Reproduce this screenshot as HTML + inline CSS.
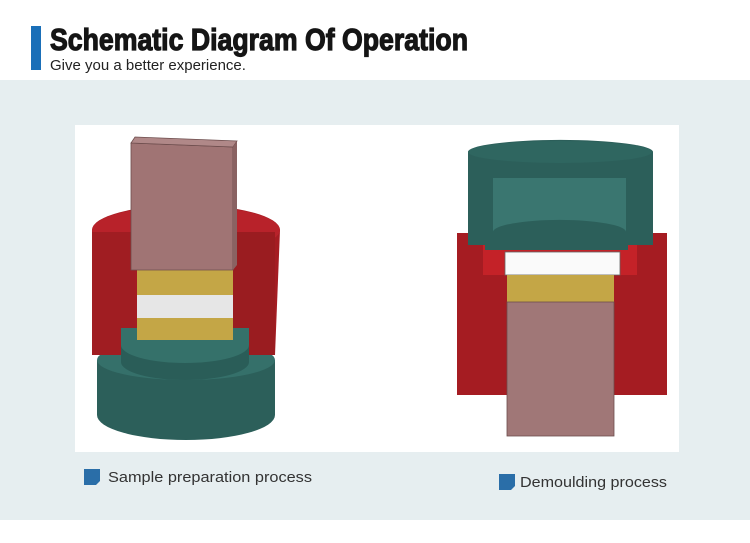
<!DOCTYPE html>
<html><head><meta charset="utf-8"><style>
body{margin:0;width:750px;height:538px;background:#fff;overflow:hidden;font-family:"Liberation Sans",sans-serif}
</style></head><body>
<svg width="750" height="538" viewBox="0 0 750 538" xmlns="http://www.w3.org/2000/svg">
<rect x="0" y="80" width="750" height="440" fill="#e6eef0"/>
<rect x="31" y="26" width="10" height="44" fill="#1a6fb8"/>
<text x="50" y="50" font-family="Liberation Sans Narrow, Liberation Sans, sans-serif" font-weight="bold" font-size="31" fill="#151515" stroke="#151515" stroke-width="1.2" textLength="418" lengthAdjust="spacingAndGlyphs">Schematic Diagram Of Operation</text>
<text x="50" y="70" font-size="15" fill="#222">Give you a better experience.</text>
<rect x="75" y="125" width="604" height="327" fill="#fff"/>

<!-- left figure -->
<path d="M97 360 L97 415 A89 25 0 0 0 275 415 L275 360 Z" fill="#2c5f5a"/>
<ellipse cx="186" cy="360" rx="89" ry="20" fill="#35706a"/>
<path d="M92 230 A94 25 0 0 1 280 230 L275 355 L92 355 Z" fill="#a51c22"/>
<ellipse cx="186" cy="230" rx="94" ry="24" fill="#b8222a"/>
<rect x="92" y="232" width="43" height="123" fill="#a01d22"/>
<rect x="233" y="232" width="42" height="123" fill="#9a1c20"/>
<path d="M121 328 L121 362 A64 18 0 0 0 249 362 L249 328 Z" fill="#2a5d58"/>
<path d="M121 328 L249 328 L249 345 A64 18 0 0 1 121 345 Z" fill="#35716a"/>
<rect x="137" y="270" width="96" height="25" fill="#c4a646"/>
<rect x="137" y="295" width="96" height="23" fill="#e6e6e6"/>
<rect x="137" y="318" width="96" height="22" fill="#c4a646"/>
<path d="M131 143 L233 147 L233 270 L131 270 Z" fill="#a07474" stroke="#6d4d4d" stroke-width="0.8"/>
<path d="M131 143 L135 137 L237 141 L233 147 Z" fill="#b08888" stroke="#6d4d4d" stroke-width="0.8"/>
<path d="M233 147 L237 141 L237 265 L233 270 Z" fill="#8a6262"/>

<!-- right figure -->
<rect x="457" y="233" width="210" height="162" fill="#a51c22"/>
<rect x="483" y="235" width="154" height="40" fill="#c42228"/>
<path d="M468 152 A92 12 0 0 1 653 152 L653 245 L628 245 L628 250 L485 250 L485 245 L468 245 Z" fill="#2c5f5a"/>
<ellipse cx="560" cy="152" rx="92" ry="11" fill="#2f6660"/>
<path d="M493 178 L626 178 L626 232 A66 12 0 0 0 493 232 Z" fill="#3a7670"/>
<rect x="505" y="252" width="115" height="23" fill="#fafafa" stroke="#666" stroke-width="0.8"/>
<rect x="507" y="275" width="107" height="27" fill="#c4a646"/>
<rect x="507" y="302" width="107" height="134" fill="#a07777" stroke="#6d4d4d" stroke-width="0.8"/>

<!-- labels -->
<path d="M84 469 L100 469 L100 481 L96 485 L84 485 Z" fill="#2a6ea8"/>
<text x="108" y="482" font-size="15" fill="#333" textLength="204" lengthAdjust="spacingAndGlyphs">Sample preparation process</text>
<path d="M499 474 L515 474 L515 486 L511 490 L499 490 Z" fill="#2a6ea8"/>
<text x="520" y="487" font-size="15" fill="#333" textLength="147" lengthAdjust="spacingAndGlyphs">Demoulding process</text>
</svg>
</body></html>
